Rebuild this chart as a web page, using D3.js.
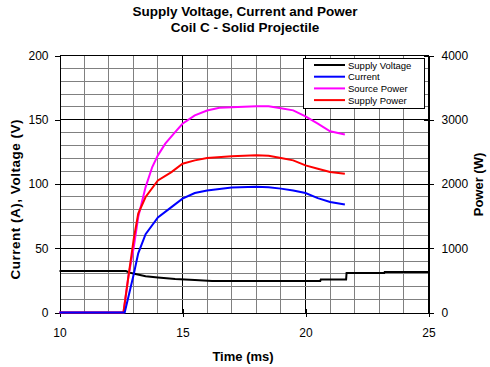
<!DOCTYPE html>
<html><head><meta charset="utf-8">
<script src="https://cdn.jsdelivr.net/npm/d3@7/dist/d3.min.js"></script>
<style>
body{margin:0;background:#fff;}
text{font-family:"Liberation Sans",Arial,sans-serif;}
</style></head>
<body><svg id="c" width="490" height="367"></svg>
<script>
const titleLines = ["Supply Voltage, Current and Power", "Coil C - Solid Projectile"];
const xTicks = [10, 15, 20, 25];
const yLeftTicks = [0, 50, 100, 150, 200];
const yRightTicks = [0, 1000, 2000, 3000, 4000];
const seriesNames = ["Supply Voltage", "Current", "Source Power", "Supply Power"];
const seriesColors = ["#000000", "#0000ff", "#ff00ff", "#ff0000"];

// Supply Voltage (V)
const voltT = [10, 12.7, 12.85, 13.0, 13.5, 14.0, 14.7, 15.5, 16.2, 20.6, 20.62, 21.65, 21.67, 23.2, 23.22, 25];
const voltV = [32.3, 32.3, 31.0, 30.3, 28.2, 27.2, 26.0, 25.2, 24.5, 24.5, 25.6, 25.6, 30.8, 30.8, 31.6, 31.6];
// Current (A)
const curT = [10, 12.65, 12.8, 13.02, 13.2, 13.5, 14.0, 14.55, 15.0, 15.5, 16.0, 17.0, 18.0, 18.5, 19.0, 19.5, 20.0, 20.5, 21.0, 21.6];
const curV = [0, 0, 12, 30, 46, 61, 74, 82, 88.6, 93, 95, 97.2, 97.8, 97.5, 96.4, 95, 93, 89, 86, 84];
// Source Power (W)
const srcT = [10, 12.6, 12.8, 13.02, 13.2, 13.5, 13.77, 14.0, 14.3, 14.7, 15.0, 15.5, 16.0, 16.5, 17.0, 18.0, 18.5, 19.0, 19.5, 20.0, 20.5, 21.0, 21.6];
const srcV = [0, 0, 560, 1020, 1486, 1952, 2264, 2446, 2628, 2808, 2938, 3068, 3144, 3186, 3196, 3212, 3210, 3180, 3146, 3052, 2938, 2820, 2772];
// Supply Power (W)
const supT = [10, 12.6, 12.8, 13.02, 13.2, 13.5, 14.0, 14.55, 15.0, 15.5, 16.0, 17.0, 18.0, 18.5, 19.0, 19.5, 20.0, 20.5, 21.0, 21.6];
const supV = [0, 0, 554, 1150, 1540, 1798, 2056, 2186, 2316, 2368, 2404, 2430, 2446, 2440, 2404, 2368, 2290, 2238, 2186, 2160];

const svg = d3.select("#c");
const L = 59.5, R = 428.5, T = 55.5, B = 312.5;
const x = d3.scaleLinear().domain([10, 25]).range([L, R]);
const yL = d3.scaleLinear().domain([0, 200]).range([B, T]);
const yR = d3.scaleLinear().domain([0, 4000]).range([B, T]);
const rx = v => Math.round(x(v) - 0.5) + 0.5;
const ryL = v => Math.round(yL(v) - 0.5) + 0.5;

// grid
const g = svg.append("g").attr("shape-rendering", "crispEdges");
d3.range(11, 25).forEach(t => {
  g.append("line").attr("x1", rx(t)).attr("x2", rx(t)).attr("y1", T).attr("y2", B)
   .attr("stroke", t % 5 === 0 ? "#000" : "#808080").attr("stroke-width", 1);
});
d3.range(10, 200, 10).forEach(v => {
  g.append("line").attr("x1", L).attr("x2", R).attr("y1", ryL(v)).attr("y2", ryL(v))
   .attr("stroke", v % 50 === 0 ? "#000" : "#808080").attr("stroke-width", 1);
});
// frame
g.append("line").attr("x1", L).attr("x2", R).attr("y1", T).attr("y2", T).attr("stroke", "#000");
g.append("line").attr("x1", R).attr("x2", R).attr("y1", T).attr("y2", B).attr("stroke", "#000");

// axes
const axL = d3.axisLeft(yL).tickValues(yLeftTicks).tickSize(5).tickPadding(6);
const axR = d3.axisRight(yR).tickValues(yRightTicks).tickSize(5).tickPadding(8).tickFormat(d3.format("d"));
const axB = d3.axisBottom(x).tickValues(xTicks).tickSize(4).tickPadding(11.5);
function styleAxis(sel) {
  sel.attr("shape-rendering", "crispEdges");
  sel.select(".domain").attr("stroke", "#000");
  sel.selectAll(".tick line").attr("stroke", "#000");
  sel.selectAll(".tick text").attr("font-size", "12px").attr("fill", "#000")
     .attr("font-family", "'Liberation Sans', Arial, sans-serif");
}
svg.append("g").attr("transform", `translate(${L},0)`).call(axL).call(styleAxis);
const gr = svg.append("g").attr("transform", `translate(${R},0)`).call(axR).call(styleAxis);
gr.selectAll(".tick").append("line").attr("x1", -5).attr("x2", 0).attr("stroke", "#000");
const gb = svg.append("g").attr("transform", `translate(0,${B})`).call(axB).call(styleAxis);
gb.selectAll(".tick").append("line").attr("y1", -4).attr("y2", 0).attr("stroke", "#000");

// lines
const lineL = d3.line().x(d => x(d[0])).y(d => yL(d[1]));
const lineR = d3.line().x(d => x(d[0])).y(d => yR(d[1]));
const plotG = svg.append("g");
function draw(ts, vs, gen, color) {
  plotG.append("path").datum(ts.map((t, i) => [t, vs[i]])).attr("d", gen)
    .attr("fill", "none").attr("stroke", color).attr("stroke-width", 2).attr("stroke-linejoin", "miter");
}
draw(voltT, voltV, lineL, seriesColors[0]);
draw(srcT, srcV, lineR, seriesColors[2]);
draw(supT, supV, lineR, seriesColors[3]);
draw(curT, curV, lineL, seriesColors[1]);

// legend
const lg = svg.append("g");
lg.append("rect").attr("x", 303.5).attr("y", 58.5).attr("width", 121).attr("height", 50)
  .attr("fill", "#fff").attr("stroke", "#000").attr("shape-rendering", "crispEdges");
seriesNames.forEach((n, i) => {
  const yy = 65 + i * 11.7;
  lg.append("line").attr("x1", 314).attr("x2", 345).attr("y1", yy).attr("y2", yy)
    .attr("stroke", seriesColors[i]).attr("stroke-width", 2);
  lg.append("text").attr("x", 348).attr("y", yy + 3.5).attr("font-size", "9.5px").text(n);
});

// titles
titleLines.forEach((t, i) => {
  svg.append("text").attr("x", 245).attr("y", 16 + i * 16).attr("text-anchor", "middle")
    .attr("font-size", "13.5px").attr("font-weight", "bold").text(t);
});
svg.append("text").attr("x", 243).attr("y", 361).attr("text-anchor", "middle")
  .attr("font-size", "13px").attr("font-weight", "bold").text("Time (ms)");
svg.append("text").attr("transform", "translate(20,199.5) rotate(-90)").attr("text-anchor", "middle")
  .attr("font-size", "13.5px").attr("font-weight", "bold")
  .attr("textLength", 160).attr("lengthAdjust", "spacing").text("Current (A), Voltage (V)");
svg.append("text").attr("transform", "translate(483,184.5) rotate(-90)").attr("text-anchor", "middle")
  .attr("font-size", "13px").attr("font-weight", "bold").text("Power (W)");
</script></body></html>
